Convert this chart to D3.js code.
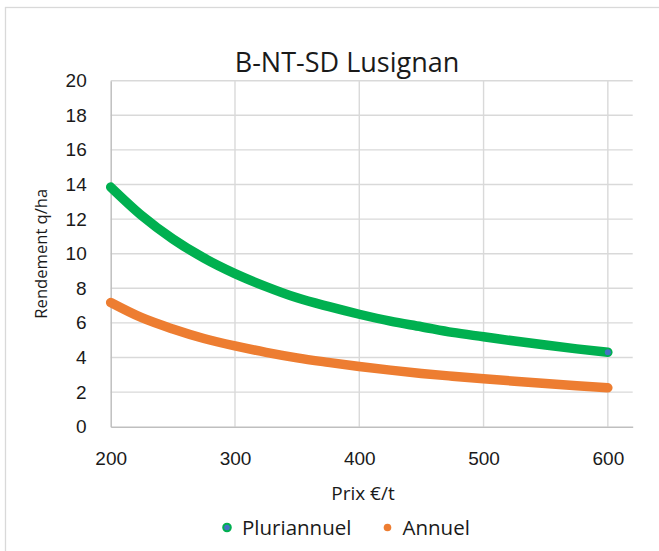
<!DOCTYPE html>
<html>
<head>
<meta charset="utf-8">
<script src="https://cdn.jsdelivr.net/npm/d3@7"></script>
<style>
  body { margin: 0; background: #fff; }
  svg { font-family: "Open Sans", "Noto Sans", sans-serif; }
  .grid line { stroke: #d9d9d9; stroke-width: 1.4; }
  .tick text { fill: #1a1a1a; font-size: 19px; }
</style>
</head>
<body>
<div id="chart"></div>
<script>
'use strict';

// prices (€/t)
const prix = [200, 225, 250, 275, 300, 325, 350, 375, 400, 425, 450, 475, 500, 525, 550, 575, 600];
// yield q/ha
const pluriannuel = [13.85, 12.2, 10.85, 9.75, 8.85, 8.1, 7.45, 6.95, 6.5, 6.1, 5.78, 5.45, 5.2, 4.95, 4.72, 4.5, 4.3];
const annuel = [7.18, 6.3, 5.65, 5.1, 4.67, 4.3, 3.98, 3.72, 3.48, 3.27, 3.08, 2.92, 2.77, 2.63, 2.5, 2.37, 2.25];

const xTicks = [200, 300, 400, 500, 600];
const yTicks = [0, 2, 4, 6, 8, 10, 12, 14, 16, 18, 20];

const series = [
  { name: 'Pluriannuel', color: '#00b050', values: pluriannuel },
  { name: 'Annuel', color: '#ed7d31', values: annuel },
];

const width = 659, height = 551;
const padding = { top: 80.7, right: 26.3, bottom: 124.3, left: 110.7 };
const innerWidth = width - padding.left - padding.right;
const innerHeight = height - padding.top - padding.bottom;

const svg = d3.select('#chart').append('svg')
  .attr('width', width)
  .attr('height', height);

// chart area border (runs off the right and bottom edges)
svg.append('rect')
  .attr('x', 5.5).attr('y', 7.5)
  .attr('width', width + 10).attr('height', height + 10)
  .attr('fill', '#fff').attr('stroke', '#d9d9d9').attr('stroke-width', 1.3);

const g = svg.append('g')
  .attr('transform', 'translate(' + padding.left + ',' + padding.top + ')');

const x = d3.scaleLinear().domain([200, 620]).range([0, innerWidth]);
const y = d3.scaleLinear().domain([0, 20]).range([innerHeight, 0]);

// gridlines
g.append('g').attr('class', 'grid')
  .selectAll('line').data(yTicks.filter(d => d > 0)).enter()
  .append('line')
  .attr('x1', 0).attr('x2', innerWidth)
  .attr('y1', d => y(d)).attr('y2', d => y(d));

g.append('g').attr('class', 'grid')
  .selectAll('line').data(xTicks.filter(d => d > 200)).enter()
  .append('line')
  .attr('y1', 0).attr('y2', innerHeight)
  .attr('x1', d => x(d)).attr('x2', d => x(d));

// axes
const yAxis = d3.axisLeft(y).tickValues(yTicks).tickSize(0).tickPadding(24);
const xAxis = d3.axisBottom(x).tickValues(xTicks).tickSize(0).tickPadding(25);

const yg = g.append('g').call(yAxis);
yg.select('.domain').attr('stroke', '#bfbfbf').attr('stroke-width', 1.5);

const xg = g.append('g')
  .attr('transform', 'translate(0,' + innerHeight + ')')
  .call(xAxis);
xg.select('.domain').attr('stroke', '#bfbfbf').attr('stroke-width', 1.5);

// curves
const line = d3.line()
  .x((d, i) => x(prix[i]))
  .y(d => y(d))
  .curve(d3.curveMonotoneX);

g.selectAll('path.serie').data(series).enter()
  .append('path')
  .attr('class', 'serie')
  .attr('d', d => line(d.values))
  .attr('fill', 'none')
  .attr('stroke', d => d.color)
  .attr('stroke-width', 9.5)
  .attr('stroke-linecap', 'round');

// end marker on the green line
g.append('circle')
  .attr('cx', x(prix[prix.length - 1]))
  .attr('cy', y(pluriannuel[pluriannuel.length - 1]))
  .attr('r', 3)
  .attr('fill', '#4472c4');

// titles
svg.append('text')
  .attr('x', 347).attr('y', 72)
  .attr('text-anchor', 'middle')
  .attr('font-size', 27)
  .attr('fill', '#1a1a1a')
  .text('B-NT-SD Lusignan');

svg.append('text')
  .attr('transform', 'translate(47,' + (padding.top + innerHeight / 2) + ') rotate(-90)')
  .attr('text-anchor', 'middle')
  .attr('font-size', 16.6)
  .attr('fill', '#1a1a1a')
  .text('Rendement q/ha');

svg.append('text')
  .attr('x', 363).attr('y', 500)
  .attr('text-anchor', 'middle')
  .attr('font-size', 19)
  .attr('fill', '#1a1a1a')
  .text('Prix €/t');

// legend
const legend = svg.append('g').attr('transform', 'translate(0,527.5)');
const legendX = [227, 387.5];
series.forEach((s, i) => {
  legend.append('circle')
    .attr('cx', legendX[i]).attr('cy', 0).attr('r', 3.8)
    .attr('fill', i === 0 ? '#4472c4' : s.color)
    .attr('stroke', s.color).attr('stroke-width', i === 0 ? 2 : 0);
  legend.append('text')
    .attr('x', legendX[i] + 15).attr('y', 7)
    .attr('font-size', 20.5)
    .attr('fill', '#1a1a1a')
    .text(s.name);
});
</script>
</body>
</html>
